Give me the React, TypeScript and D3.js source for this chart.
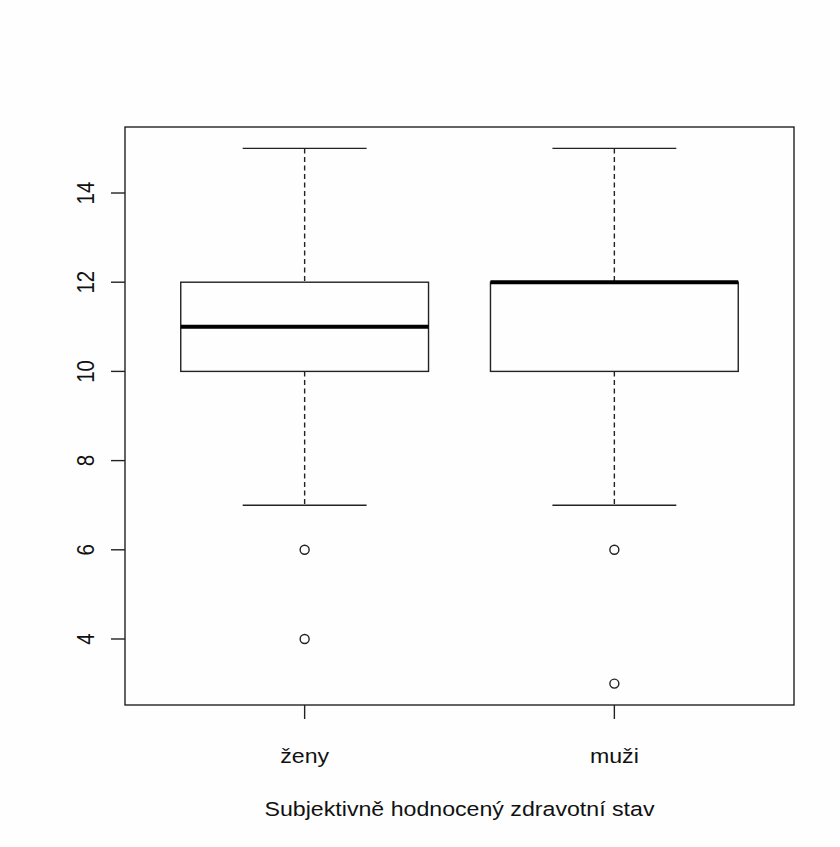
import * as d3 from "d3";

const groups = ["ženy", "muži"];
const lowerWhisker = [7, 7];
const q1 = [10, 10];
const medians = [11, 12];
const q3 = [12, 12];
const upperWhisker = [15, 15];
const outliers = [[6, 4], [6, 3]];
const yTicks = [4, 6, 8, 10, 12, 14];
const xTitle = "Subjektivně hodnocený zdravotní stav";

const W = 840,
  H = 847;
const plot = { left: 125, right: 794, top: 127, bottom: 705 };
const font = "'Liberation Sans', Arial, sans-serif";
// the source picture is a bit wider than tall, text is stretched too
const fontSize = 20.5;
const stretch = 1.13;

export default function App() {
  // R style: range extended by 4% each side
  const yMin = 3,
    yMax = 15,
    yPad = (yMax - yMin) * 0.04;
  const y = d3
    .scaleLinear()
    .domain([yMin - yPad, yMax + yPad])
    .range([plot.bottom, plot.top]);
  const x = d3
    .scaleLinear()
    .domain([0.5 - 0.08, groups.length + 0.5 + 0.08])
    .range([plot.left, plot.right]);
  const boxHalf = x(1.4) - x(1);
  const capHalf = boxHalf / 2;
  const ink = "#222";

  return (
    <div style={{ position: "absolute", left: 0, top: 0 }}>
      <svg width={W} height={H} style={{ display: "block" }}>
        <rect x={0} y={0} width={W} height={H} fill="#fdfefd" />
        <rect
          x={plot.left}
          y={plot.top}
          width={plot.right - plot.left}
          height={plot.bottom - plot.top}
          fill="none"
          stroke={ink}
          strokeWidth={1.4}
        />
        {/* y axis */}
        <g>
          {yTicks.map((t) => (
            <g key={t}>
              <line
                x1={plot.left - 14}
                x2={plot.left}
                y1={y(t)}
                y2={y(t)}
                stroke={ink}
                strokeWidth={1.4}
              />
              <text
                transform={`translate(${94},${y(t)}) scale(${stretch},1) rotate(-90)`}
                textAnchor="middle"
                fontFamily={font}
                fontSize={fontSize}
                fill="#111"
              >
                {t}
              </text>
            </g>
          ))}
        </g>
        {/* x axis */}
        <g>
          {groups.map((g, i) => (
            <g key={g}>
              <line
                x1={x(i + 1)}
                x2={x(i + 1)}
                y1={plot.bottom}
                y2={plot.bottom + 14}
                stroke={ink}
                strokeWidth={1.4}
              />
              <text
                transform={`translate(${x(i + 1)},763) scale(${stretch},1)`}
                textAnchor="middle"
                fontFamily={font}
                fontSize={fontSize}
                fill="#111"
              >
                {g}
              </text>
            </g>
          ))}
          <text
            transform={`translate(${(plot.left + plot.right) / 2},816) scale(${stretch},1)`}
            textAnchor="middle"
            fontFamily={font}
            fontSize={fontSize}
            fill="#111"
          >
            {xTitle}
          </text>
        </g>
        {/* boxes */}
        {groups.map((g, i) => {
          const cx = x(i + 1);
          return (
            <g key={g}>
              <line
                x1={cx}
                x2={cx}
                y1={y(upperWhisker[i])}
                y2={y(q3[i])}
                stroke={ink}
                strokeWidth={1.4}
                strokeDasharray="5,3.5"
              />
              <line
                x1={cx}
                x2={cx}
                y1={y(q1[i])}
                y2={y(lowerWhisker[i])}
                stroke={ink}
                strokeWidth={1.4}
                strokeDasharray="5,3.5"
              />
              <line
                x1={cx - capHalf}
                x2={cx + capHalf}
                y1={y(upperWhisker[i])}
                y2={y(upperWhisker[i])}
                stroke={ink}
                strokeWidth={1.4}
              />
              <line
                x1={cx - capHalf}
                x2={cx + capHalf}
                y1={y(lowerWhisker[i])}
                y2={y(lowerWhisker[i])}
                stroke={ink}
                strokeWidth={1.4}
              />
              <rect
                x={cx - boxHalf}
                y={y(q3[i])}
                width={boxHalf * 2}
                height={y(q1[i]) - y(q3[i])}
                fill="none"
                stroke={ink}
                strokeWidth={1.4}
              />
              <line
                x1={cx - boxHalf}
                x2={cx + boxHalf}
                y1={y(medians[i])}
                y2={y(medians[i])}
                stroke="#000"
                strokeWidth={4}
              />
              {outliers[i].map((o, j) => (
                <circle
                  key={j}
                  cx={cx}
                  cy={y(o)}
                  r={4.5}
                  fill="none"
                  stroke={ink}
                  strokeWidth={1.4}
                />
              ))}
            </g>
          );
        })}
      </svg>
    </div>
  );
}
